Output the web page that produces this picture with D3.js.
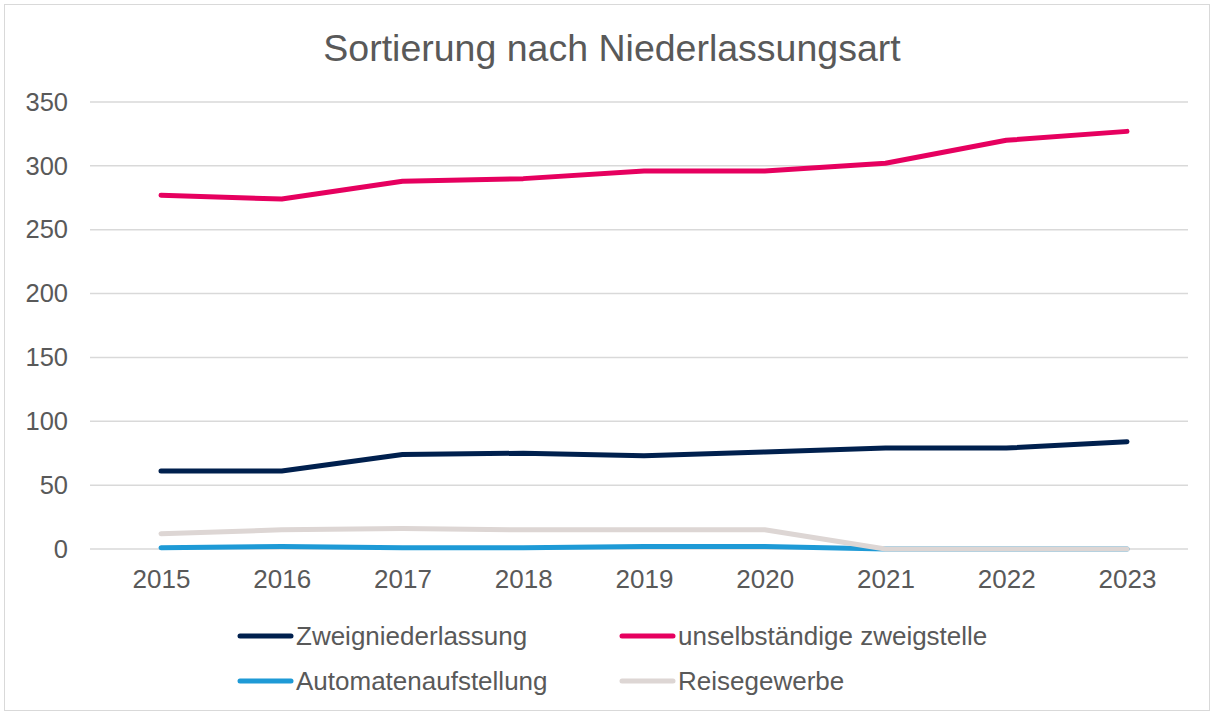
<!DOCTYPE html>
<html><head><meta charset="utf-8">
<script src="https://cdn.jsdelivr.net/npm/d3@7"></script>
<style>body{margin:0;background:#fff}svg{display:block}text{font-family:"Liberation Sans",Arial,sans-serif;fill:#595959}</style>
</head><body><div id="c"></div>
<script>
const years = ["2015","2016","2017","2018","2019","2020","2021","2022","2023"];
const zweigniederlassung = [61,61,74,75,73,76,79,79,84];
const unselbstaendige = [277,274,288,290,296,296,302,320,327];
const automaten = [1,2,1,1,2,2,0,0,0];
const reisegewerbe = [12,15,16,15,15,15,0,0,0];
const yTicks = [0,50,100,150,200,250,300,350];
const seriesNames = ["Zweigniederlassung","unselbständige zweigstelle","Automatenaufstellung","Reisegewerbe"];
const seriesColors = ["#00204E","#E6005F","#1E9AD6","#DDD6D4"];

const W=1213,H=711;
const svg=d3.select("#c").append("svg").attr("width",W).attr("height",H);
svg.append("rect").attr("x",4.5).attr("y",4.5).attr("width",W-8).attr("height",H-5).attr("fill","#fff").attr("stroke","#D9D9D9");
svg.append("text").attr("x",612).attr("y",61).attr("text-anchor","middle").attr("font-size",37.5).text("Sortierung nach Niederlassungsart");

const x=d3.scalePoint().domain(years).range([161,1127]);
const y=d3.scaleLinear().domain([0,350]).range([549,102]);

svg.append("g").selectAll("line").data(yTicks).join("line")
 .attr("x1",90).attr("x2",1188).attr("y1",d=>y(d)).attr("y2",d=>y(d))
 .attr("stroke","#D9D9D9").attr("stroke-width",1.5);

const ya=svg.append("g").attr("transform","translate(68,0)").call(d3.axisLeft(y).tickValues(yTicks).tickSize(0).tickPadding(0));
ya.select(".domain").remove();
ya.selectAll("text").attr("font-size",25.5).attr("fill","#595959").attr("font-family","Liberation Sans, Arial, sans-serif");

const xa=svg.append("g").attr("transform","translate(0,570)").call(d3.axisBottom(x).tickSize(0).tickPadding(0));
xa.select(".domain").remove();
xa.selectAll("text").attr("font-size",26).attr("fill","#595959").attr("dy","0.71em").attr("font-family","Liberation Sans, Arial, sans-serif");

const data=[zweigniederlassung,unselbstaendige,automaten,reisegewerbe];
const line=d3.line().x((d,i)=>x(years[i])).y(d=>y(d));
const order=[2,3,0,1];
order.forEach(k=>{
 svg.append("path").attr("d",line(data[k])).attr("fill","none").attr("stroke",seriesColors[k])
  .attr("stroke-width",5).attr("stroke-linecap","round").attr("stroke-linejoin","round");
});

const legPos=[[238,636],[620,636],[238,681],[620,681]];
seriesNames.forEach((n,i)=>{
 const [lx,ly]=legPos[i];
 const g=svg.append("g");
 g.append("line").attr("x1",lx+2).attr("x2",lx+53).attr("y1",ly).attr("y2",ly).attr("stroke",seriesColors[i]).attr("stroke-width",5).attr("stroke-linecap","round");
 g.append("text").attr("x",lx+58).attr("y",ly).attr("dy","0.35em").attr("font-size",26).text(n);
});
</script></body></html>
